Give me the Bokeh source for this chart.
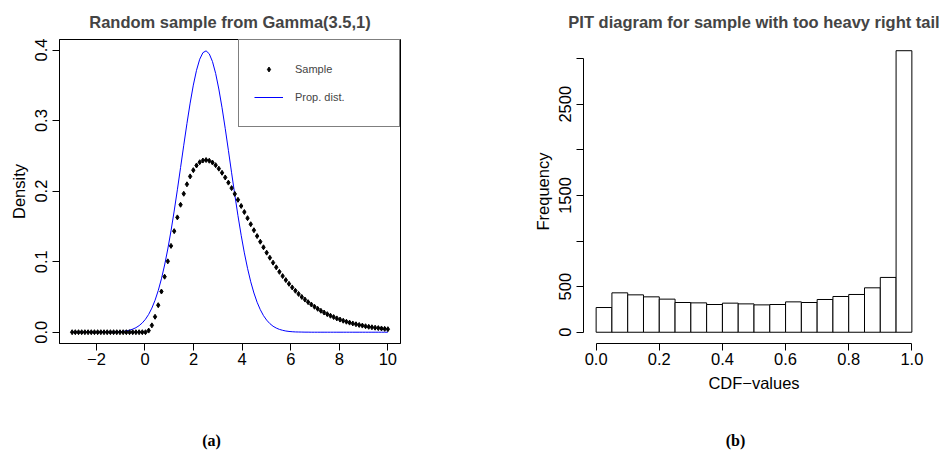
from bokeh.plotting import figure
from bokeh.layouts import row, column
from bokeh.models import Range1d, FixedTicker, Legend, LegendItem, NumeralTickFormatter
from bokeh.core.properties import value
from bokeh.embed import file_html
from bokeh.resources import INLINE

# ---------------- data ----------------
x_vals = [-3.000, -2.869, -2.737, -2.606, -2.475, -2.343, -2.212, -2.081, -1.949, -1.818,
          -1.687, -1.556, -1.424, -1.293, -1.162, -1.030, -0.899, -0.768, -0.636, -0.505,
          -0.374, -0.242, -0.111, 0.020, 0.152, 0.283, 0.414, 0.545, 0.677, 0.808,
          0.939, 1.071, 1.202, 1.333, 1.465, 1.596, 1.727, 1.859, 1.990, 2.121,
          2.253, 2.384, 2.515, 2.646, 2.778, 2.909, 3.040, 3.172, 3.303, 3.434,
          3.566, 3.697, 3.828, 3.960, 4.091, 4.222, 4.354, 4.485, 4.616, 4.747,
          4.879, 5.010, 5.141, 5.273, 5.404, 5.535, 5.667, 5.798, 5.929, 6.061,
          6.192, 6.323, 6.455, 6.586, 6.717, 6.848, 6.980, 7.111, 7.242, 7.374,
          7.505, 7.636, 7.768, 7.899, 8.030, 8.162, 8.293, 8.424, 8.556, 8.687,
          8.818, 8.949, 9.081, 9.212, 9.343, 9.475, 9.606, 9.737, 9.869, 10.000]

sample_density = [0.0000, 0.0000, 0.0000, 0.0000, 0.0000, 0.0000, 0.0000, 0.0000, 0.0000, 0.0000,
                  0.0000, 0.0000, 0.0000, 0.0000, 0.0000, 0.0000, 0.0000, 0.0000, 0.0000, 0.0000,
                  0.0000, 0.0000, 0.0000, 0.0000, 0.0023, 0.0097, 0.0219, 0.0383, 0.0577, 0.0787,
                  0.1005, 0.1224, 0.1433, 0.1628, 0.1807, 0.1963, 0.2097, 0.2209, 0.2298, 0.2364,
                  0.2410, 0.2434, 0.2441, 0.2431, 0.2406, 0.2368, 0.2319, 0.2260, 0.2194, 0.2121,
                  0.2043, 0.1961, 0.1877, 0.1790, 0.1704, 0.1617, 0.1531, 0.1446, 0.1363, 0.1283,
                  0.1204, 0.1128, 0.1056, 0.0986, 0.0920, 0.0856, 0.0796, 0.0739, 0.0686, 0.0635,
                  0.0588, 0.0543, 0.0501, 0.0463, 0.0426, 0.0393, 0.0361, 0.0332, 0.0304, 0.0279,
                  0.0256, 0.0234, 0.0215, 0.0196, 0.0179, 0.0163, 0.0149, 0.0136, 0.0124, 0.0113,
                  0.0103, 0.0094, 0.0085, 0.0077, 0.0070, 0.0064, 0.0058, 0.0053, 0.0048, 0.0043]

prop_density = [0.0000, 0.0000, 0.0000, 0.0000, 0.0000, 0.0000, 0.0000, 0.0000, 0.0000, 0.0000,
                0.0000, 0.0001, 0.0002, 0.0003, 0.0005, 0.0008, 0.0012, 0.0019, 0.0029, 0.0044,
                0.0064, 0.0093, 0.0132, 0.0184, 0.0253, 0.0342, 0.0453, 0.0590, 0.0757, 0.0953,
                0.1180, 0.1437, 0.1718, 0.2019, 0.2335, 0.2651, 0.2959, 0.3248, 0.3503, 0.3713,
                0.3870, 0.3963, 0.3989, 0.3947, 0.3838, 0.3669, 0.3448, 0.3183, 0.2890, 0.2579,
                0.2260, 0.1949, 0.1652, 0.1374, 0.1125, 0.0906, 0.0715, 0.0556, 0.0425, 0.0320,
                0.0235, 0.0171, 0.0122, 0.0085, 0.0059, 0.0040, 0.0027, 0.0017, 0.0011, 0.0007,
                0.0004, 0.0003, 0.0002, 0.0001, 0.0001, 0.0000, 0.0000, 0.0000, 0.0000, 0.0000,
                0.0000, 0.0000, 0.0000, 0.0000, 0.0000, 0.0000, 0.0000, 0.0000, 0.0000, 0.0000,
                0.0000, 0.0000, 0.0000, 0.0000, 0.0000, 0.0000, 0.0000, 0.0000, 0.0000, 0.0000]

bin_edges = [0.00, 0.05, 0.10, 0.15, 0.20, 0.25, 0.30, 0.35, 0.40, 0.45, 0.50,
             0.55, 0.60, 0.65, 0.70, 0.75, 0.80, 0.85, 0.90, 0.95, 1.00]
pit_counts = [271, 432, 410, 388, 363, 326, 322, 304, 319, 311,
              300, 304, 333, 326, 359, 392, 414, 487, 601, 3087]

left_xticks = [-2, 0, 2, 4, 6, 8, 10]
left_yticks = [0.0, 0.1, 0.2, 0.3, 0.4]
right_xticks = [0.0, 0.2, 0.4, 0.6, 0.8, 1.0]
right_yticks = [0, 500, 1000, 1500, 2000, 2500, 3000]

captions = ["(a)", "(b)"]

FONT = "Liberation Sans"
TICK_SIZE = "16.5px"
PLOT_H = 418
CAP_H = 454 - PLOT_H


def style_axes(p):
    for ax in p.axis:
        ax.major_label_text_font = FONT
        ax.major_label_text_font_size = TICK_SIZE
        ax.major_label_text_color = "black"
        ax.axis_label_text_font = FONT
        ax.axis_label_text_font_size = TICK_SIZE
        ax.axis_label_text_font_style = "normal"
        ax.axis_label_text_color = "black"
        ax.major_tick_out = 7
        ax.major_tick_in = 0
        ax.minor_tick_line_color = None
        ax.axis_line_color = "black"
        ax.major_tick_line_color = "black"
    p.xaxis.major_label_standoff = 2
    p.yaxis.major_label_standoff = 5
    p.xaxis.axis_label_standoff = 6
    p.yaxis.axis_label_standoff = 5
    p.yaxis.major_label_orientation = "vertical"
    p.xgrid.grid_line_color = None
    p.ygrid.grid_line_color = None
    p.title.text_font = FONT
    p.title.text_font_size = "16.5px"
    p.title.text_font_style = "bold"
    p.title.align = "center"
    p.title.standoff = 17
    p.background_fill_color = "white"
    p.border_fill_color = "white"


def caption_fig(text, width, x_px):
    c = figure(width=width, height=CAP_H, output_backend="svg", toolbar_location=None,
               x_range=Range1d(0, width), y_range=Range1d(0, CAP_H),
               min_border=0, min_border_left=0, min_border_right=0,
               min_border_top=0, min_border_bottom=0)
    c.axis.visible = False
    c.xgrid.grid_line_color = None
    c.ygrid.grid_line_color = None
    c.outline_line_color = None
    c.background_fill_color = "white"
    c.border_fill_color = "white"
    c.text(x=[x_px], y=[CAP_H - 22], text=[text], text_align="center",
           text_baseline="middle", text_font=value("Liberation Serif"),
           text_font_style="bold", text_font_size="16px", text_color="black")
    return c


# ---------------- left panel ----------------
p1 = figure(width=470, height=PLOT_H, output_backend="svg", toolbar_location=None,
            x_range=Range1d(-3.52, 10.52), y_range=Range1d(-0.016, 0.415),
            min_border_left=59, min_border_right=70, min_border_top=39,
            min_border_bottom=PLOT_H - 343,
            title="Random sample from Gamma(3.5,1)")
line_r = p1.line(x_vals, prop_density, line_color="#0000FF", line_width=1)
pts_r = p1.scatter(x_vals, sample_density, marker="diamond", size=5, color="black")
p1.outline_line_color = "black"
p1.outline_line_width = 1
style_axes(p1)
p1.xaxis.ticker = FixedTicker(ticks=left_xticks)
p1.xaxis.major_label_overrides = {-2: "\u22122"}
p1.yaxis.ticker = FixedTicker(ticks=left_yticks)
p1.yaxis.formatter = NumeralTickFormatter(format="0.0")
p1.yaxis.axis_label = "Density"

legend = Legend(items=[LegendItem(label="Sample", renderers=[pts_r]),
                       LegendItem(label="Prop. dist.", renderers=[line_r])],
                location="top_right", margin=0, padding=15, spacing=0,
                glyph_width=29, glyph_height=12, label_height=28, label_width=89,
                label_standoff=12, border_line_color="black", border_line_width=1,
                label_text_font=FONT, label_text_font_size="11px",
                background_fill_color="white", background_fill_alpha=1.0)
p1.add_layout(legend)

# ---------------- right panel ----------------
p2 = figure(width=469, height=PLOT_H, output_backend="svg", toolbar_location=None,
            x_range=Range1d(-0.04, 1.04), y_range=Range1d(-123.5, 3210),
            min_border_left=113, min_border_right=15, min_border_top=39,
            min_border_bottom=PLOT_H - 343,
            title="PIT diagram for sample with too heavy right tail")
p2.quad(left=bin_edges[:-1], right=bin_edges[1:], bottom=0, top=pit_counts,
        fill_color="white", line_color="black", line_width=1)
p2.outline_line_color = None
style_axes(p2)
p2.title.offset = -5
p2.xaxis.ticker = FixedTicker(ticks=right_xticks)
p2.xaxis.formatter = NumeralTickFormatter(format="0.0")
p2.xaxis.bounds = (0, 1)
p2.xaxis.axis_label = "CDF\u2212values"
p2.yaxis.ticker = FixedTicker(ticks=right_yticks)
p2.yaxis.major_label_overrides = {1000: "", 2000: "", 3000: ""}
p2.yaxis.bounds = (0, 3000)
p2.yaxis.axis_label = "Frequency"

c1 = caption_fig(captions[0], 470, 211)
c2 = caption_fig(captions[1], 469, 735 - 470)

layout = column(row(p1, p2), row(c1, c2))
open("out.html", "w").write(file_html(layout, INLINE))
